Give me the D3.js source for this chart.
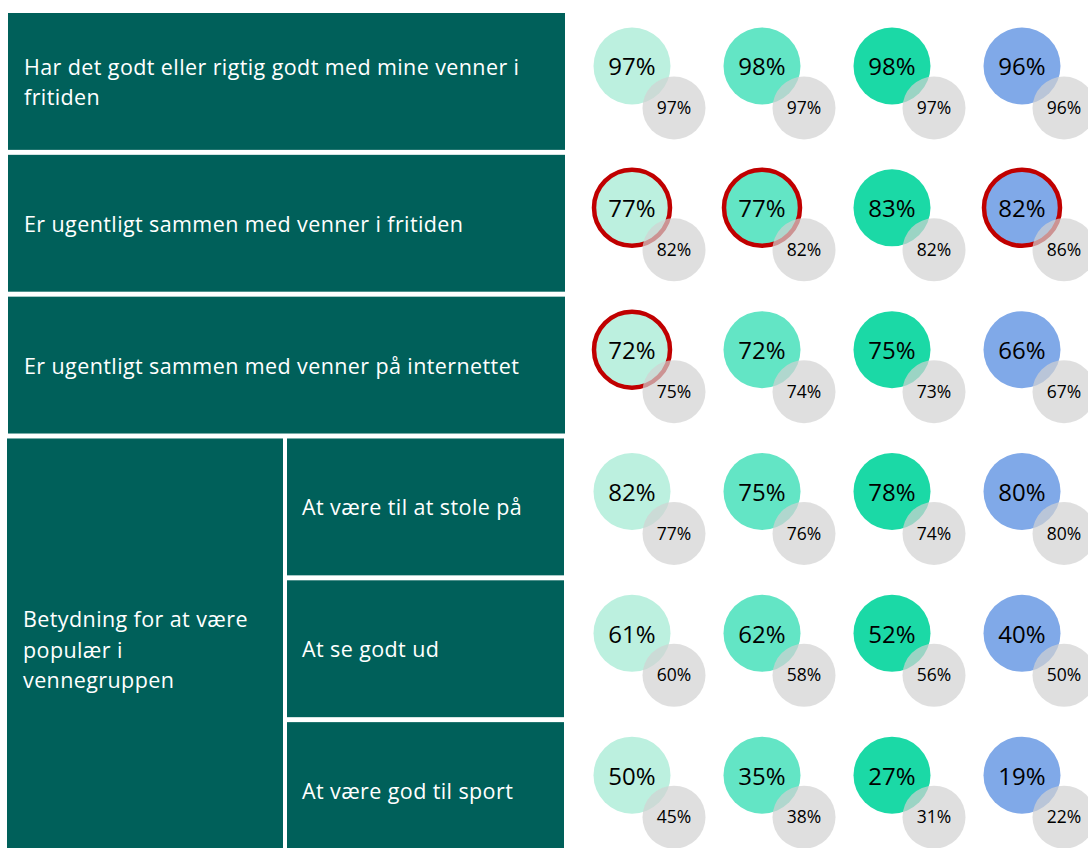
<!DOCTYPE html>
<html>
<head>
<meta charset="utf-8">
<script src="https://cdn.jsdelivr.net/npm/d3@7"></script>
<style>
  body { margin: 0; background: #fff; }
  svg { display: block; font-family: "Open Sans", "Noto Sans", sans-serif; }
</style>
</head>
<body>
<svg id="chart" width="1088" height="848"></svg>
<script>
// row labels (last three belong to the "Betydning ..." group)
const rowLabels = [
  ["Har det godt eller rigtig godt med mine venner i", "fritiden"],
  ["Er ugentligt sammen med venner i fritiden"],
  ["Er ugentligt sammen med venner på internettet"],
  ["At være til at stole på"],
  ["At se godt ud"],
  ["At være god til sport"]
];
const groupLabel = ["Betydning for at være", "populær i", "vennegruppen"];
const groupRows = [3, 4, 5];

const columns = ["g1", "g2", "g3", "g4"];
const columnColors = ["#bcf0df", "#63e5c5", "#1bd9a6", "#80a9e8"];

// main value per row, per column
const mainValues = [
  [97, 98, 98, 96],
  [77, 77, 83, 82],
  [72, 72, 75, 66],
  [82, 75, 78, 80],
  [61, 62, 52, 40],
  [50, 35, 27, 19]
];
// comparison value (grey circles)
const compValues = [
  [97, 97, 97, 96],
  [82, 82, 82, 86],
  [75, 74, 73, 67],
  [77, 76, 74, 80],
  [60, 58, 56, 50],
  [45, 38, 31, 22]
];
// cells marked with red ring
const flagged = [
  [0, 0, 0, 0],
  [1, 1, 0, 1],
  [1, 0, 0, 0],
  [0, 0, 0, 0],
  [0, 0, 0, 0],
  [0, 0, 0, 0]
];

const svg = d3.select("#chart");
const boxFill = "#00605a";
const labelSize = 21.5, labelSpacing = 0.4;

const y = d3.scaleBand()
  .domain(d3.range(rowLabels.length))
  .range([12, 858])
  .paddingInner(0.035)
  .paddingOuter(0);

const x = d3.scalePoint()
  .domain(columns)
  .range([632, 1022]);

const rMain = 38.5, rComp = 31.5, off = 42;

// left label boxes
const boxes = svg.append("g");
rowLabels.forEach((lines, i) => {
  const inGroup = groupRows.includes(i);
  const x0 = inGroup ? 287 : 8;
  const w = 565 - x0 - (inGroup ? 1 : 0);
  const top = y(i) + 1;
  const h = y.bandwidth();
  boxes.append("rect")
    .attr("x", x0).attr("y", top)
    .attr("width", w).attr("height", h)
    .attr("fill", boxFill);
  const t = boxes.append("text")
    .attr("fill", "#fff")
    .attr("font-size", labelSize)
    .attr("letter-spacing", labelSpacing);
  const cy = top + h / 2 + 1;
  lines.forEach((ln, k) => {
    t.append("tspan")
      .attr("x", x0 + (inGroup ? 15 : 16))
      .attr("y", cy + (k - (lines.length - 1) / 2) * 30)
      .attr("dy", "0.35em")
      .text(ln);
  });
});

// group box
const gTop = y(groupRows[0]) + 1;
const gBottom = 850;
boxes.append("rect")
  .attr("x", 7).attr("y", gTop)
  .attr("width", 276).attr("height", gBottom - gTop)
  .attr("fill", boxFill);
const gt = boxes.append("text").attr("fill", "#fff")
  .attr("font-size", labelSize)
  .attr("letter-spacing", labelSpacing);
const gcy = 650;
groupLabel.forEach((ln, k) => {
  gt.append("tspan")
    .attr("x", 23)
    .attr("y", gcy + (k - 1) * 30.5)
    .attr("dy", "0.35em")
    .text(ln);
});

// circles
const cells = [];
mainValues.forEach((row, i) => row.forEach((v, j) => {
  cells.push({ row: i, col: columns[j], ci: j, main: v, comp: compValues[i][j], flag: flagged[i][j] });
}));

const cyOf = d => y(d.row) + 54;

const cg = svg.append("g");
cg.selectAll("circle.main")
  .data(cells).join("circle")
  .attr("class", "main")
  .attr("cx", d => x(d.col))
  .attr("cy", cyOf)
  .attr("r", d => d.flag ? rMain - 0.5 : rMain)
  .attr("fill", d => columnColors[d.ci])
  .attr("stroke", d => d.flag ? "#c00000" : "none")
  .attr("stroke-width", 4.5);

cg.selectAll("circle.comp")
  .data(cells).join("circle")
  .attr("class", "comp")
  .attr("cx", d => x(d.col) + off)
  .attr("cy", d => cyOf(d) + off)
  .attr("r", rComp)
  .attr("fill", "#d2d2d2")
  .attr("fill-opacity", 0.7);

cg.selectAll("text.main")
  .data(cells).join("text")
  .attr("class", "main")
  .attr("x", d => x(d.col))
  .attr("y", d => cyOf(d) + 1)
  .attr("dy", "0.35em")
  .attr("text-anchor", "middle")
  .attr("font-size", 24)
  .attr("fill", "#000")
  .text(d => d.main + "%");

cg.selectAll("text.comp")
  .data(cells).join("text")
  .attr("class", "comp")
  .attr("x", d => x(d.col) + off)
  .attr("y", d => cyOf(d) + off)
  .attr("dy", "0.35em")
  .attr("text-anchor", "middle")
  .attr("font-size", 17.5)
  .attr("fill", "#000")
  .text(d => d.comp + "%");
</script>
</body>
</html>
